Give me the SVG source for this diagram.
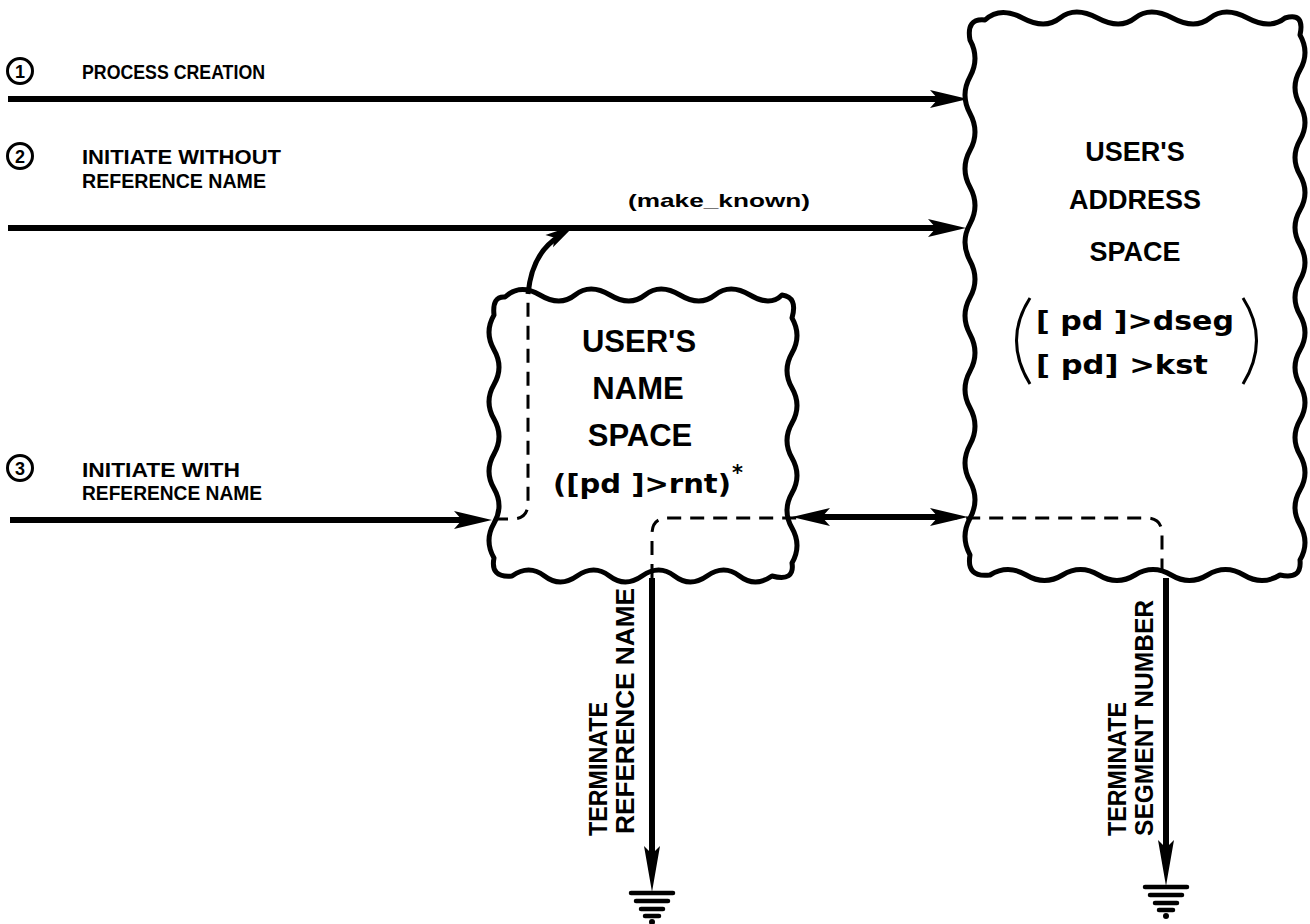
<svg xmlns="http://www.w3.org/2000/svg" width="1310" height="924" viewBox="0 0 1310 924">
<style>
.bg{fill:#fff}
.box{fill:#fff;stroke:#000;stroke-width:5;stroke-linejoin:round}
.thick{fill:none;stroke:#000;stroke-width:6}
.mid{fill:none;stroke:#000;stroke-width:5}
.dash{fill:none;stroke:#000;stroke-width:3;stroke-dasharray:14 9}
.ah{fill:#000}
.gnd{stroke:#000;stroke-width:4.5;stroke-linecap:round}
.lbl{font-family:"Liberation Sans",Arial,sans-serif;font-weight:bold;font-size:21px;fill:#000}
.num{font-family:"Liberation Sans",Arial,sans-serif;font-weight:bold;font-size:18px;fill:#000;text-anchor:middle}
.circ{fill:none;stroke:#000;stroke-width:3}
.title{font-family:"Liberation Sans",Arial,sans-serif;font-weight:bold;font-size:27px;fill:#000;text-anchor:middle}
.title2{font-family:"Liberation Sans",Arial,sans-serif;font-weight:bold;font-size:31px;fill:#000;text-anchor:middle}
.code{font-family:"DejaVu Sans","Liberation Sans",sans-serif;font-weight:bold;font-size:26px;fill:#000}
.paren{fill:none;stroke:#000;stroke-width:3}
.small{font-family:"Liberation Sans",Arial,sans-serif;font-weight:bold;font-size:19px;fill:#000}
.vert{font-family:"Liberation Sans",Arial,sans-serif;font-weight:bold;font-size:25px;fill:#000}
</style>
<defs>
<path id="ah" d="M0,0 L-38,-9 L-30,0 L-38,9 Z"/>
<path id="ahl" d="M0,0 L-46,-8 L-38,0 L-46,8 Z"/>
<g id="ground">
<line class="gnd" x1="-21" y1="1" x2="21" y2="1"/>
<line class="gnd" x1="-16" y1="9" x2="16" y2="9"/>
<line class="gnd" x1="-11" y1="17" x2="11" y2="17"/>
<line class="gnd" x1="-7" y1="24" x2="7" y2="24"/>
<circle cx="0" cy="30" r="3"/>
</g>
</defs>
<rect class="bg" x="0" y="0" width="1310" height="924"/>

<g id="address-space">
<path class="box" d="M 985 20 Q 1000 6 1022.5 18 T 1060 18 T 1097.5 18 T 1135 18 T 1172.5 18 T 1210 18 T 1247.5 18 T 1285 18 Q 1305 12 1300 35 Q 1310 52.5 1300 70 T 1300 105 T 1300 140 T 1300 175 T 1300 210 T 1300 245 T 1300 280 T 1300 315 T 1300 350 T 1300 385 T 1300 420 T 1300 455 T 1300 490 T 1300 525 T 1300 560 Q 1302 580 1280 575 Q 1262 586 1243.75 575 T 1207.5 575 T 1171.25 575 T 1135 575 T 1098.75 575 T 1062.5 575 T 1026.25 575 T 990 575 Q 966 578 970 555 Q 960 536.6 970 518.2 T 970 481.4 T 970 444.6 T 970 407.8 T 970 371.1 T 970 334.3 T 970 297.5 T 970 260.7 T 970 223.9 T 970 187.1 T 970 150.3 T 970 113.5 T 970 76.7 T 970 40 Q 966 18 985 20 Z"/>
<text class="title" x="1135" y="161">USER'S</text>
<text class="title" x="1135" y="209">ADDRESS</text>
<text class="title" x="1135" y="261">SPACE</text>
<path class="paren" d="M 1030 298 Q 1003 340 1030 384"/>
<path class="paren" d="M 1243 298 Q 1270 340 1243 384"/>
<text class="code" x="1036" y="330" textLength="198" lengthAdjust="spacingAndGlyphs">[ pd ]&gt;dseg</text>
<text class="code" x="1036" y="374" textLength="172" lengthAdjust="spacingAndGlyphs">[ pd] &gt;kst</text>
</g>

<g id="name-space">
<path class="box" d="M 505 297 Q 520 283 540 295 T 575 295 T 610 295 T 645 295 T 680 295 T 715 295 T 750 295 T 782 295 Q 798 297 792 318 Q 802 335.5 792 353 T 792 388 T 792 423 T 792 458 T 792 493 T 792 528 T 792 563 Q 795 582 772 576 Q 755 588 739.5 576 T 707 576 T 674.5 576 T 642 576 T 609.5 576 T 577 576 T 544.5 576 T 512 576 Q 490 578 494 558 Q 484 540.6 494 523.3 T 494 488.6 T 494 453.9 T 494 419.1 T 494 384.4 T 494 349.7 T 494 315 Q 492 296 505 297 Z"/>
<text class="title2" x="639" y="352">USER'S</text>
<text class="title2" x="638" y="399">NAME</text>
<text class="title2" x="640" y="446">SPACE</text>
<text class="code" x="553" y="493" textLength="178" lengthAdjust="spacingAndGlyphs">([pd ]&gt;rnt)</text>
<text class="code" x="732" y="480" style="font-size:21px">*</text>
</g>

<g id="connectors">
<line class="thick" x1="8" y1="99" x2="940" y2="99"/>
<use href="#ah" class="ah" transform="translate(968,99)"/>
<line class="thick" x1="8" y1="228" x2="938" y2="228"/>
<use href="#ah" class="ah" transform="translate(966,228)"/>
<line class="thick" x1="10" y1="520" x2="462" y2="520"/>
<use href="#ah" class="ah" transform="translate(492,520)"/>
<line class="thick" x1="818" y1="517" x2="942" y2="517"/>
<use href="#ah" class="ah" transform="translate(968,517)"/>
<use href="#ah" class="ah" transform="translate(792,517) rotate(180)"/>
<path class="mid" d="M 528 294 Q 532 252 560 236"/>
<use href="#ah" class="ah" transform="translate(575,225) rotate(-32) scale(0.8)"/>
<path class="dash" d="M 494 519 L 512 519 Q 528 519 528 503 L 528 296"/>
<path class="dash" d="M 652 578 L 652 534 Q 652 518 668 518 L 1146 518 Q 1162 518 1162 534 L 1162 578"/>
<line class="thick" x1="652" y1="578" x2="652" y2="856"/>
<use href="#ahl" class="ah" transform="translate(652,892) rotate(90)"/>
<line class="thick" x1="1166" y1="578" x2="1166" y2="850"/>
<use href="#ahl" class="ah" transform="translate(1166,886) rotate(90)"/>
</g>

<g id="ground-1"><use href="#ground" transform="translate(652,892)"/></g>
<g id="ground-2"><use href="#ground" transform="translate(1166,886)"/></g>

<g id="labels">
<circle class="circ" cx="20" cy="71" r="12.5"/>
<text class="num" x="20" y="77.5">1</text>
<text class="lbl" x="82" y="79" textLength="183" lengthAdjust="spacingAndGlyphs">PROCESS CREATION</text>
<circle class="circ" cx="20" cy="156" r="12.5"/>
<text class="num" x="20" y="162.5">2</text>
<text class="lbl" x="82" y="164" textLength="199" lengthAdjust="spacingAndGlyphs">INITIATE WITHOUT</text>
<text class="lbl" x="82" y="188" textLength="184" lengthAdjust="spacingAndGlyphs">REFERENCE NAME</text>
<text class="small" x="628" y="207" textLength="182" lengthAdjust="spacingAndGlyphs">(make_known)</text>
<circle class="circ" cx="20" cy="468" r="12.5"/>
<text class="num" x="20" y="474.5">3</text>
<text class="lbl" x="82" y="477" textLength="158" lengthAdjust="spacingAndGlyphs">INITIATE WITH</text>
<text class="lbl" x="82" y="500" textLength="180" lengthAdjust="spacingAndGlyphs">REFERENCE NAME</text>
<text class="vert" transform="translate(607,836) rotate(-90)" textLength="134" lengthAdjust="spacingAndGlyphs">TERMINATE</text>
<text class="vert" transform="translate(634,834) rotate(-90)" textLength="246" lengthAdjust="spacingAndGlyphs">REFERENCE NAME</text>
<text class="vert" transform="translate(1126,836) rotate(-90)" textLength="134" lengthAdjust="spacingAndGlyphs">TERMINATE</text>
<text class="vert" transform="translate(1153,836) rotate(-90)" textLength="236" lengthAdjust="spacingAndGlyphs">SEGMENT NUMBER</text>
</g>
</svg>
